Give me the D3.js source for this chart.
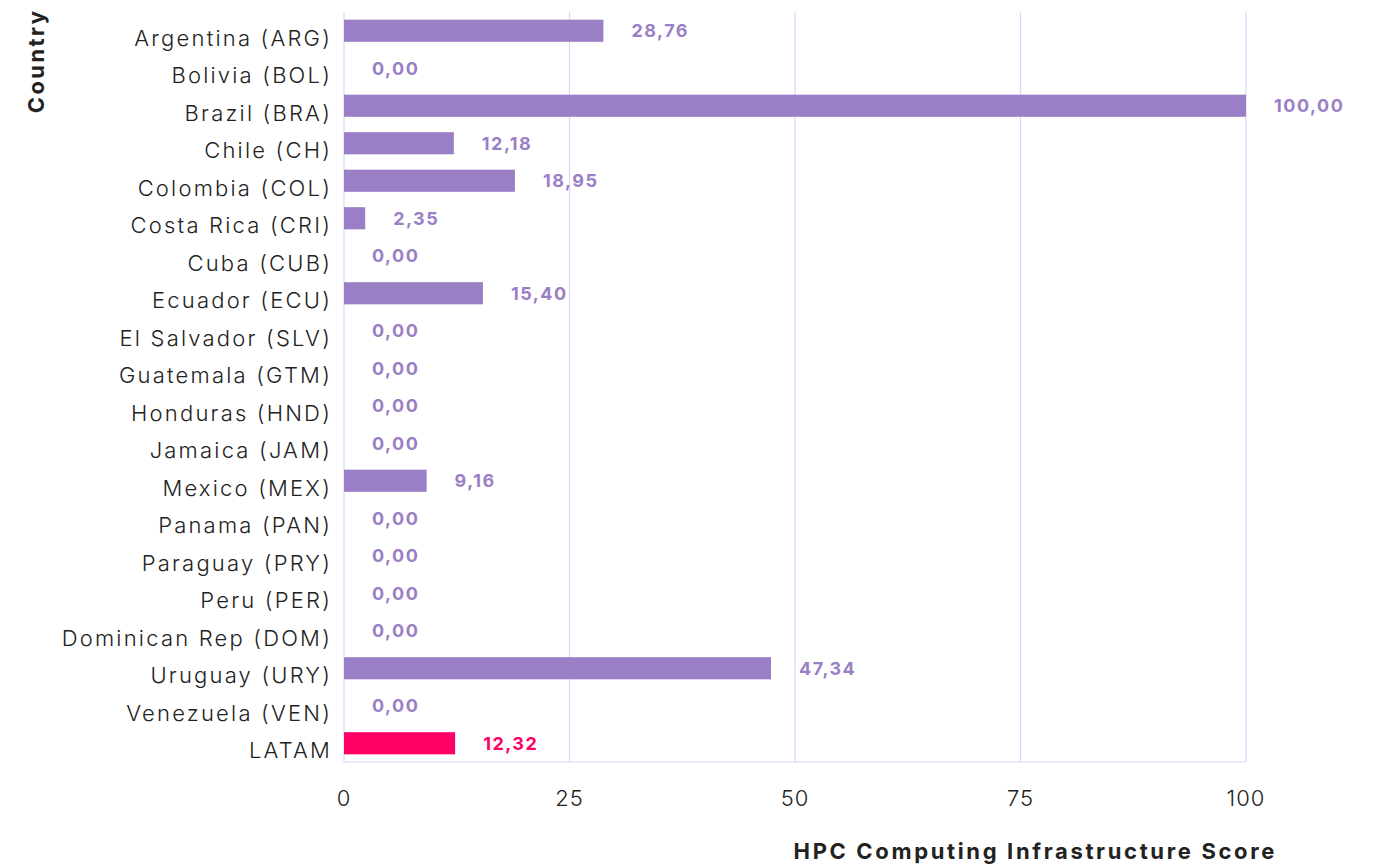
<!DOCTYPE html>
<meta charset="utf-8">
<style>
  body { margin: 0; background: #fff; }
  text { font-family: Inter, "Open Sans", sans-serif; }
</style>
<body>
<script src="https://cdn.jsdelivr.net/npm/d3@7"></script>
<script>

// data
var countries = ["Argentina (ARG)", "Bolivia (BOL)", "Brazil (BRA)", "Chile (CH)", "Colombia (COL)",
  "Costa Rica (CRI)", "Cuba (CUB)", "Ecuador (ECU)", "El Salvador (SLV)", "Guatemala (GTM)",
  "Honduras (HND)", "Jamaica (JAM)", "Mexico (MEX)", "Panama (PAN)", "Paraguay (PRY)",
  "Peru (PER)", "Dominican Rep (DOM)", "Uruguay (URY)", "Venezuela (VEN)", "LATAM"];
var scores = [28.76, 0, 100, 12.18, 18.95, 2.35, 0, 15.40, 0, 0, 0, 0, 9.16, 0, 0, 0, 0, 47.34, 0, 12.32];
var xTicks = [0, 25, 50, 75, 100];

var data = countries.map(function(c, i) { return {name: c, value: scores[i]}; });

var margin = {top: 12, right: 132, bottom: 103, left: 344},
    width = 1378 - margin.left - margin.right,
    height = 865 - margin.top - margin.bottom;

var x = d3.scaleLinear().domain([0, 100]).range([0, width]);
var y = d3.scaleBand().domain(countries).range([0, height]).paddingInner(0.41).paddingOuter(0.205);

var svg = d3.select("body").append("svg")
    .attr("width", 1378)
    .attr("height", 865)
  .append("g")
    .attr("transform", "translate(" + margin.left + "," + margin.top + ")");

// vertical grid
svg.append("g").selectAll("line")
    .data(xTicks)
  .enter().append("line")
    .attr("x1", function(d) { return x(d); })
    .attr("x2", function(d) { return x(d); })
    .attr("y1", 0)
    .attr("y2", height)
    .style("stroke", "#dcd6fb")
    .style("stroke-width", 1.2);

svg.append("line")
    .attr("x1", 0).attr("x2", width)
    .attr("y1", height).attr("y2", height)
    .style("stroke", "#dcd6fb")
    .style("stroke-width", 1.2);

// x tick labels
svg.append("g").selectAll("text")
    .data(xTicks)
  .enter().append("text")
    .attr("x", function(d) { return x(d); })
    .attr("y", height + 44)
    .attr("text-anchor", "middle")
    .style("font-size", "22px")
    .style("font-weight", 300)
    .style("letter-spacing", "1px")
    .style("fill", "#222")
    .text(function(d) { return d; });

// y labels
svg.append("g").selectAll("text")
    .data(countries)
  .enter().append("text")
    .attr("x", -12)
    .attr("y", function(d) { return y(d) + y.bandwidth() / 2 + 7; })
    .attr("dy", "0.36em")
    .attr("text-anchor", "end")
    .style("font-size", "22px")
    .style("font-weight", 300)
    .style("letter-spacing", "2.2px")
    .style("fill", "#222")
    .text(function(d) { return d; });

// bars
svg.append("g").selectAll("rect")
    .data(data)
  .enter().append("rect")
    .attr("x", 0)
    .attr("y", function(d) { return y(d.name); })
    .attr("width", function(d) { return x(d.value); })
    .attr("height", y.bandwidth())
    .style("fill", function(d) { return d.name == "LATAM" ? "#ff0066" : "#9a7fc6"; });

// value labels
svg.append("g").selectAll("text")
    .data(data)
  .enter().append("text")
    .attr("x", function(d) { return x(d.value) + 28; })
    .attr("y", function(d) { return y(d.name) + y.bandwidth() / 2; })
    .attr("dy", "0.36em")
    .style("font-size", "18px")
    .style("font-weight", 700)
    .style("letter-spacing", "1.5px")
    .style("fill", function(d) { return d.name == "LATAM" ? "#ff0066" : "#9a7fc6"; })
    .text(function(d) { return d.value.toFixed(2).replace(".", ","); });

// axis titles
svg.append("text")
    .attr("x", width + 31)
    .attr("y", height + 97)
    .attr("text-anchor", "end")
    .style("font-size", "22px")
    .style("font-weight", 700)
    .style("letter-spacing", "2.65px")
    .style("fill", "#222")
    .text("HPC Computing Infrastructure Score");

svg.append("text")
    .attr("transform", "translate(" + (-300) + "," + 49 + ")rotate(-90)")
    .attr("text-anchor", "middle")
    .style("font-size", "22px")
    .style("font-weight", 700)
    .style("letter-spacing", "2.4px")
    .style("fill", "#222")
    .text("Country");

</script>
</body>
